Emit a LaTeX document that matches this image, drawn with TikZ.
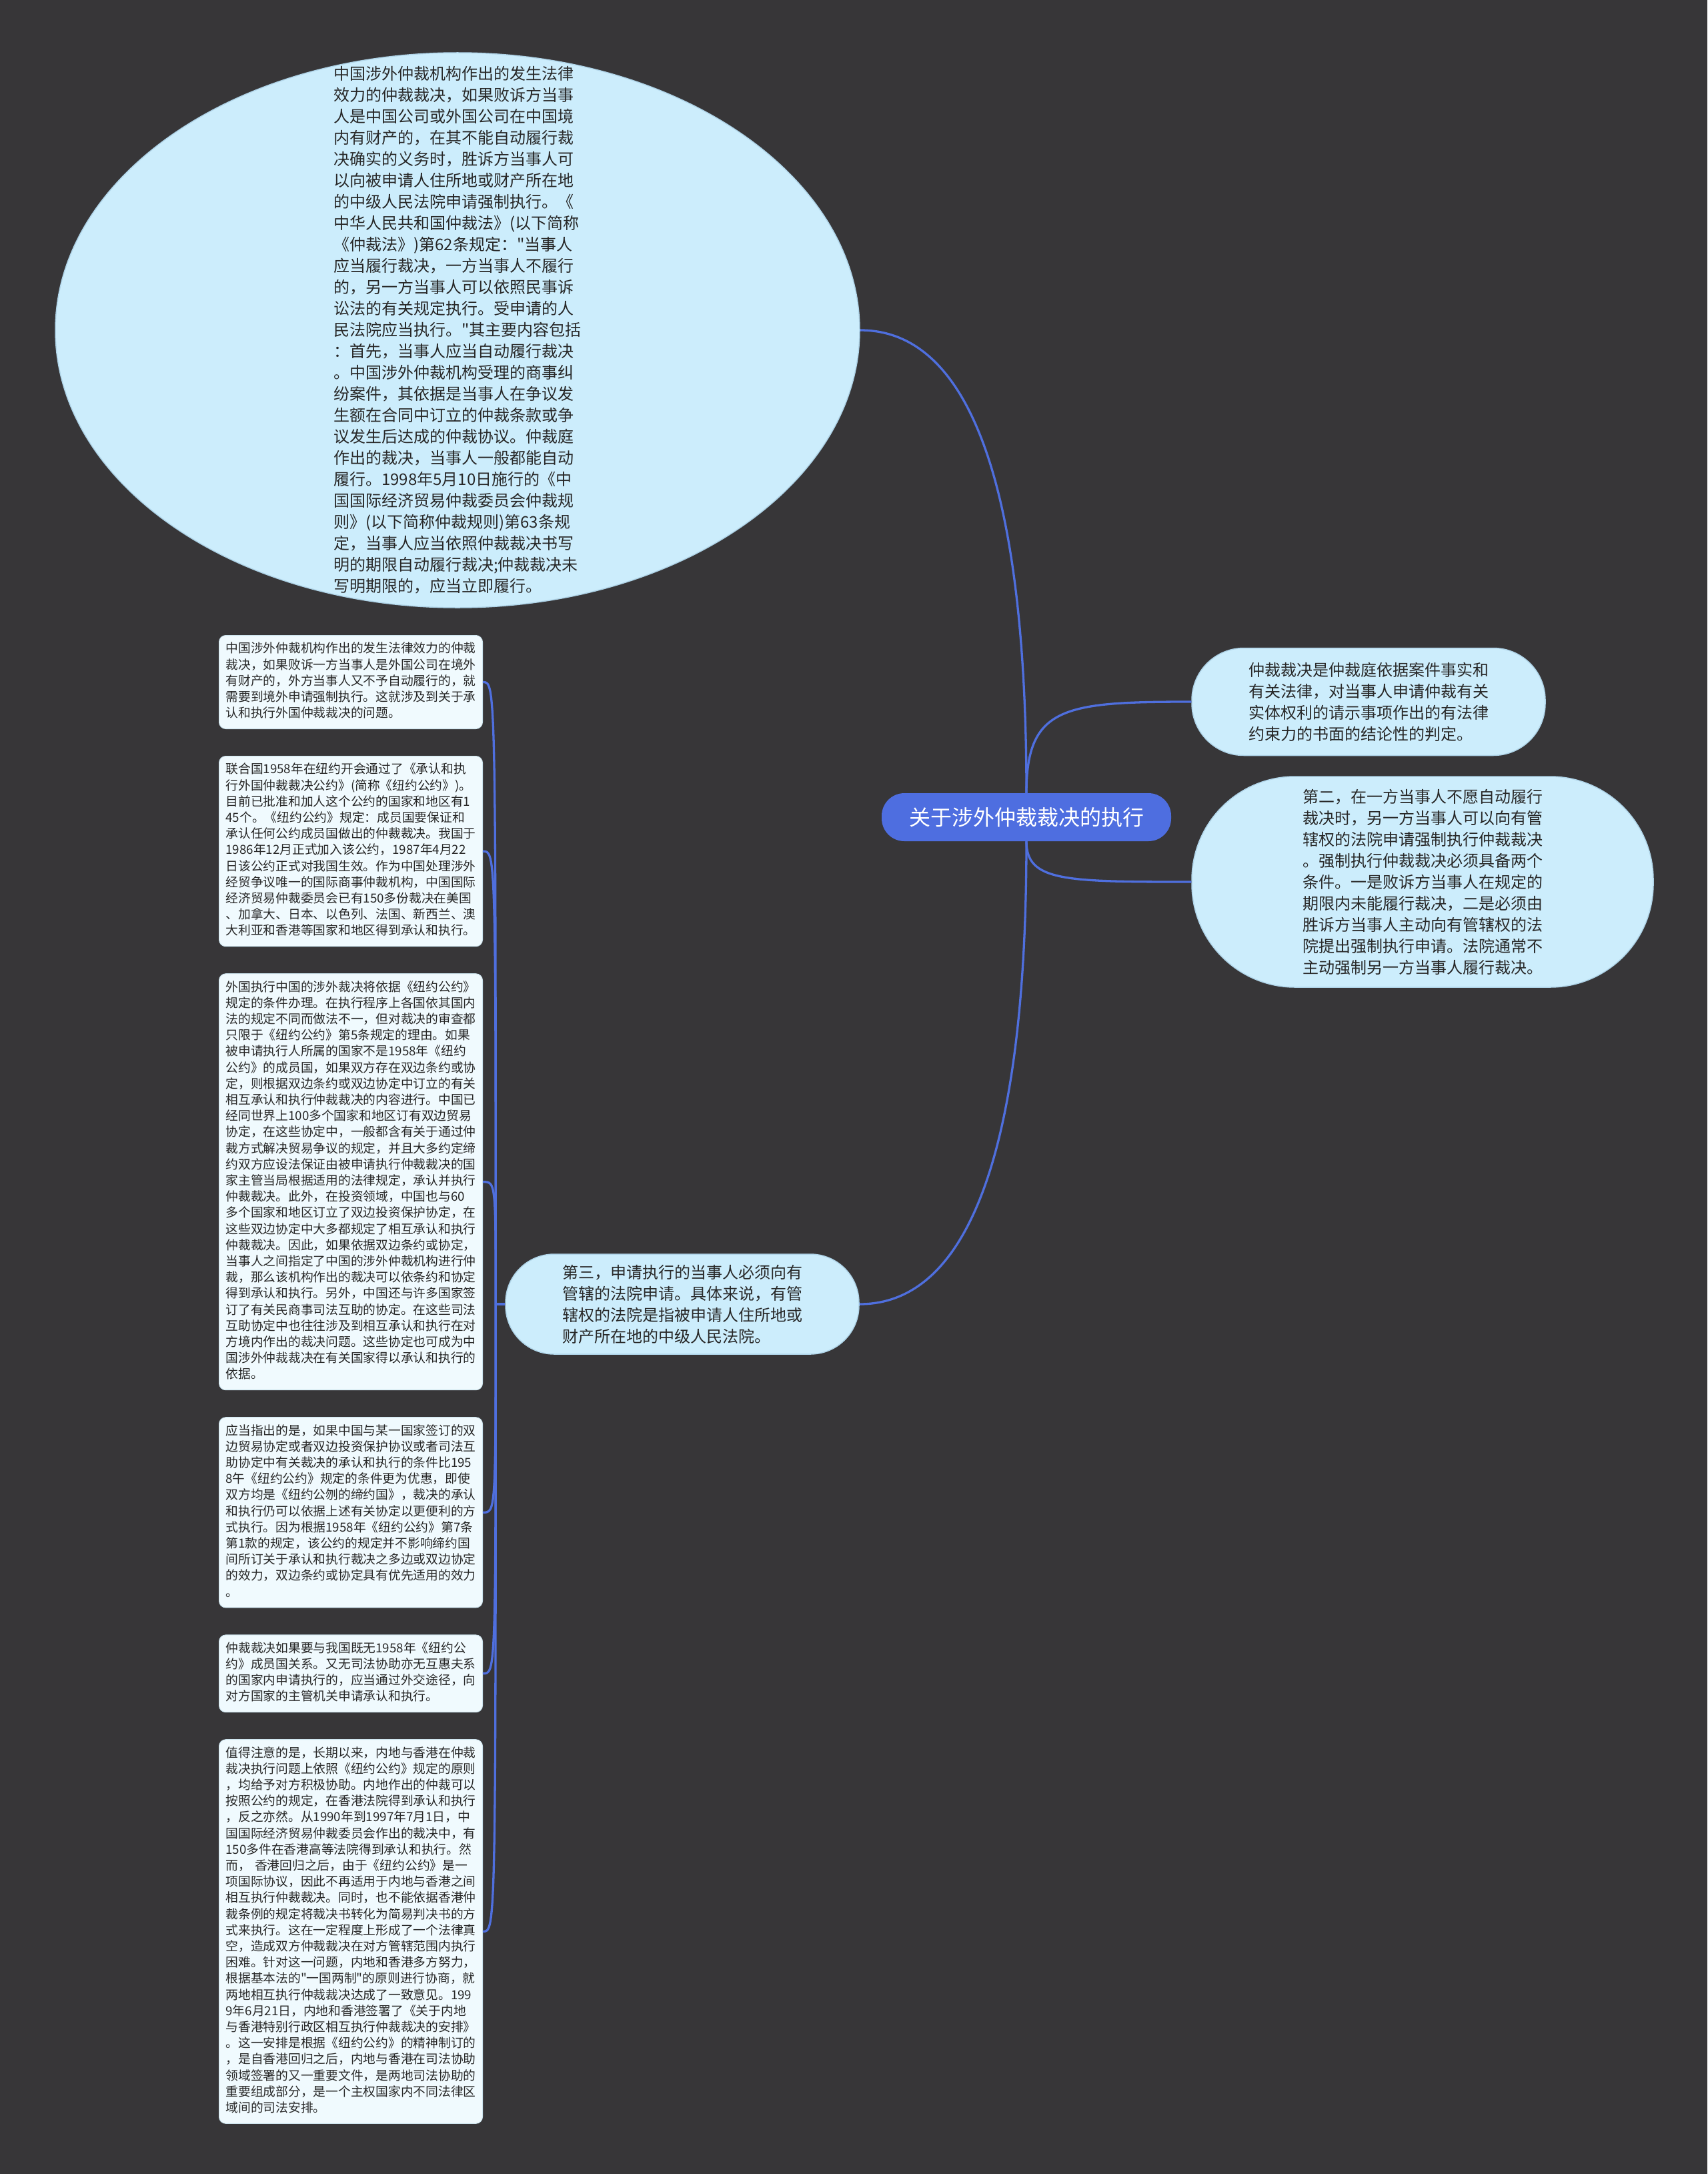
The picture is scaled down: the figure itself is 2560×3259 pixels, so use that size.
\documentclass[tikz,border=0pt]{standalone}
\usepackage{fontspec}
\newfontfamily\cjk{Noto Sans CJK SC}
\usepackage{tikz}
\usetikzlibrary{positioning, shapes.geometric, calc}

\definecolor{bgcol}{RGB}{55,54,56}
\definecolor{linkcol}{RGB}{79,111,222}
\definecolor{rootcol}{RGB}{78,110,224}
\definecolor{bubblecol}{RGB}{204,237,252}
\definecolor{bubbleline}{RGB}{175,212,232}
\definecolor{notecol}{RGB}{240,250,254}
\definecolor{noteline}{RGB}{205,228,238}
\definecolor{inkcol}{RGB}{40,40,40}

\begin{document}
\begin{tikzpicture}[x=1pt, y=-1pt,
     bubble/.style={fill=bubblecol, draw=bubbleline, line width=1.5pt, text=inkcol,
       font=\cjk\fontsize{24}{32}\selectfont, align=left, inner sep=0pt},
     rootbox/.style={fill=rootcol, text=white, font=\cjk\fontsize{32}{36}\selectfont,
       minimum width=434pt, minimum height=72pt, rounded corners=34pt},
     note/.style={fill=notecol, draw=noteline, line width=1pt, rounded corners=10pt,
       text=inkcol, text width=375pt, inner xsep=10pt, inner ysep=9.5pt, align=left,
       font=\cjk\fontsize{18.75}{24.2}\selectfont,
       execute at begin node=\strut, execute at end node=\strut},
     link/.style={draw=linkcol, line width=3.3pt}]

  \fill[bgcol] (0,0) rectangle (2560,3259);
  \useasboundingbox (0,0) rectangle (2560,3259);

  \node[rootbox] (root) at (1539,1225) {关于涉外仲裁裁决的执行};

  \node[bubble, ellipse, minimum width=1206pt, minimum height=832pt] (rule) at (686,495) {};
  \node[text=inkcol, font=\cjk\fontsize{24}{32}\selectfont, align=left] (ruletext) at (rule.center) {%
    中国涉外仲裁机构作出的发生法律\\
    效力的仲裁裁决，如果败诉方当事\\
    人是中国公司或外国公司在中国境\\
    内有财产的，在其不能自动履行裁\\
    决确实的义务时，胜诉方当事人可\\
    以向被申请人住所地或财产所在地\\
    的中级人民法院申请强制执行。《\\
    中华人民共和国仲裁法》(以下简称\\
    《仲裁法》)第62条规定："当事人\\
    应当履行裁决，一方当事人不履行\\
    的，另一方当事人可以依照民事诉\\
    讼法的有关规定执行。受申请的人\\
    民法院应当执行。"其主要内容包括\\
    ：首先，当事人应当自动履行裁决\\
    。中国涉外仲裁机构受理的商事纠\\
    纷案件，其依据是当事人在争议发\\
    生额在合同中订立的仲裁条款或争\\
    议发生后达成的仲裁协议。仲裁庭\\
    作出的裁决，当事人一般都能自动\\
    履行。1998年5月10日施行的《中\\
    国国际经济贸易仲裁委员会仲裁规\\
    则》(以下简称仲裁规则)第63条规\\
    定，当事人应当依照仲裁裁决书写\\
    明的期限自动履行裁决;仲裁裁决未\\
    写明期限的，应当立即履行。};

  \node[bubble, minimum width=530pt, minimum height=161pt, rounded corners=78pt] (def) at (2052,1052) {%
    仲裁裁决是仲裁庭依据案件事实和\\
    有关法律，对当事人申请仲裁有关\\
    实体权利的请示事项作出的有法律\\
    约束力的书面的结论性的判定。};

  \node[bubble, minimum width=692pt, minimum height=316pt, rounded corners=155pt] (second) at (2133,1322) {%
    第二，在一方当事人不愿自动履行\\
    裁决时，另一方当事人可以向有管\\
    辖权的法院申请强制执行仲裁裁决\\
    。强制执行仲裁裁决必须具备两个\\
    条件。一是败诉方当事人在规定的\\
    期限内未能履行裁决，二是必须由\\
    胜诉方当事人主动向有管辖权的法\\
    院提出强制执行申请。法院通常不\\
    主动强制另一方当事人履行裁决。};

  \node[bubble, minimum width=530pt, minimum height=150pt, rounded corners=73pt] (third) at (1023,1955) {%
    第三，申请执行的当事人必须向有\\
    管辖的法院申请。具体来说，有管\\
    辖权的法院是指被申请人住所地或\\
    财产所在地的中级人民法院。};

  \node[note, anchor=north west] (box1) at (328,952) {%
    中国涉外仲裁机构作出的发生法律效力的仲裁\\
    裁决，如果败诉一方当事人是外国公司在境外\\
    有财产的，外方当事人又不予自动履行的，就\\
    需要到境外申请强制执行。这就涉及到关于承\\
    认和执行外国仲裁裁决的问题。};
  \node[note, below=40pt of box1] (box2) {%
    联合国1958年在纽约开会通过了《承认和执\\
    行外国仲裁裁决公约》(简称《纽约公约》)。\\
    目前已批准和加人这个公约的国家和地区有1\\
    45个。《纽约公约》规定：成员国要保证和\\
    承认任何公约成员国做出的仲裁裁决。我国于\\
    1986年12月正式加入该公约，1987年4月22\\
    日该公约正式对我国生效。作为中国处理涉外\\
    经贸争议唯一的国际商事仲裁机构，中国国际\\
    经济贸易仲裁委员会已有150多份裁决在美国\\
    、加拿大、日本、以色列、法国、新西兰、澳\\
    大利亚和香港等国家和地区得到承认和执行。};
  \node[note, below=40pt of box2] (box3) {%
    外国执行中国的涉外裁决将依据《纽约公约》\\
    规定的条件办理。在执行程序上各国依其国内\\
    法的规定不同而做法不一，但对裁决的审查都\\
    只限于《纽约公约》第5条规定的理由。如果\\
    被申请执行人所属的国家不是1958年《纽约\\
    公约》的成员国，如果双方存在双边条约或协\\
    定，则根据双边条约或双边协定中订立的有关\\
    相互承认和执行仲裁裁决的内容进行。中国已\\
    经同世界上100多个国家和地区订有双边贸易\\
    协定，在这些协定中，一般都含有关于通过仲\\
    裁方式解决贸易争议的规定，并且大多约定缔\\
    约双方应设法保证由被申请执行仲裁裁决的国\\
    家主管当局根据适用的法律规定，承认并执行\\
    仲裁裁决。此外，在投资领域，中国也与60\\
    多个国家和地区订立了双边投资保护协定，在\\
    这些双边协定中大多都规定了相互承认和执行\\
    仲裁裁决。因此，如果依据双边条约或协定，\\
    当事人之间指定了中国的涉外仲裁机构进行仲\\
    裁，那么该机构作出的裁决可以依条约和协定\\
    得到承认和执行。另外，中国还与许多国家签\\
    订了有关民商事司法互助的协定。在这些司法\\
    互助协定中也往往涉及到相互承认和执行在对\\
    方境内作出的裁决问题。这些协定也可成为中\\
    国涉外仲裁裁决在有关国家得以承认和执行的\\
    依据。};
  \node[note, below=40pt of box3] (box4) {%
    应当指出的是，如果中国与某一国家签订的双\\
    边贸易协定或者双边投资保护协议或者司法互\\
    助协定中有关裁决的承认和执行的条件比195\\
    8午《纽约公约》规定的条件更为优惠，即使\\
    双方均是《纽约公刎的缔约国》，裁决的承认\\
    和执行仍可以依据上述有关协定以更便利的方\\
    式执行。因为根据1958年《纽约公约》第7条\\
    第1款的规定，该公约的规定并不影响缔约国\\
    间所订关于承认和执行裁决之多边或双边协定\\
    的效力，双边条约或协定具有优先适用的效力\\
    。};
  \node[note, below=40pt of box4] (box5) {%
    仲裁裁决如果要与我国既无1958年《纽约公\\
    约》成员国关系。又无司法协助亦无互惠夫系\\
    的国家内申请执行的，应当通过外交途径，向\\
    对方国家的主管机关申请承认和执行。};
  \node[note, below=40pt of box5] (box6) {%
    值得注意的是，长期以来，内地与香港在仲裁\\
    裁决执行问题上依照《纽约公约》规定的原则\\
    ，均给予对方积极协助。内地作出的仲裁可以\\
    按照公约的规定，在香港法院得到承认和执行\\
    ，反之亦然。从1990年到1997年7月1日，中\\
    国国际经济贸易仲裁委员会作出的裁决中，有\\
    150多件在香港高等法院得到承认和执行。然\\
    而， 香港回归之后，由于《纽约公约》是一\\
    项国际协议，因此不再适用于内地与香港之间\\
    相互执行仲裁裁决。同时，也不能依据香港仲\\
    裁条例的规定将裁决书转化为简易判决书的方\\
    式来执行。这在一定程度上形成了一个法律真\\
    空，造成双方仲裁裁决在对方管辖范围内执行\\
    困难。针对这一问题，内地和香港多方努力，\\
    根据基本法的"一国两制"的原则进行协商，就\\
    两地相互执行仲裁裁决达成了一致意见。199\\
    9年6月21日，内地和香港签署了《关于内地\\
    与香港特别行政区相互执行仲裁裁决的安排》\\
    。这一安排是根据《纽约公约》的精神制订的\\
    ，是自香港回归之后，内地与香港在司法协助\\
    领域签署的又一重要文件，是两地司法协助的\\
    重要组成部分，是一个主权国家内不同法律区\\
    域间的司法安排。};

  \draw[link] (root.north) .. controls +(0,-590) and +(110,0) .. (rule.east);
  \draw[link] (root.north) .. controls +(0,-130) and +(-190,0) .. (def.west);
  \draw[link] (root.south) .. controls +(0,60) and +(-190,0) .. (second.west);
  \draw[link] (root.south) .. controls +(0,590) and +(110,0) .. (third.east);

  \coordinate (hub) at ($(third.west)+(-14,0)$);
  \draw[link] (third.west) -- (hub);
  \foreach \b in {box1,box2,box3,box4,box5,box6}
    \draw[link] (hub) .. controls (hub |- \b.east) and (hub |- \b.east) .. (\b.east);
\end{tikzpicture}
\end{document}
